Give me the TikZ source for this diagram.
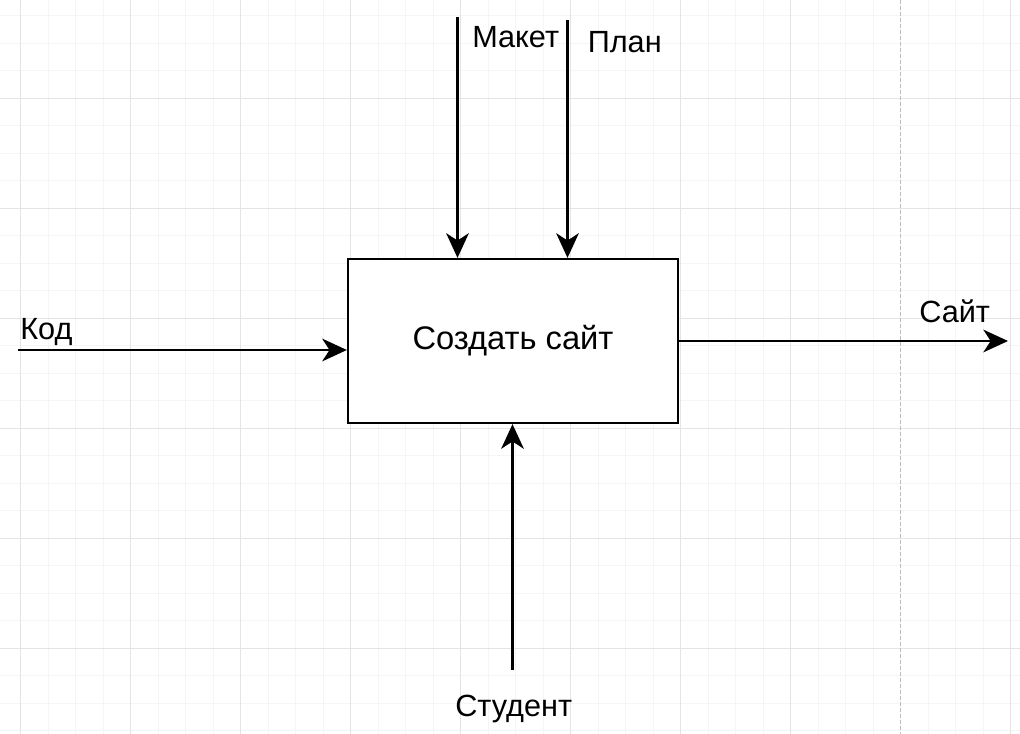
\documentclass[tikz,border=0pt]{standalone}
\usepackage{fontspec}
\setmainfont{Liberation Sans}
\usetikzlibrary{arrows.meta}
\begin{document}
\begin{tikzpicture}[x=0.75pt,y=-0.75pt,
  minorgrid/.style={draw={rgb,255:red,245;green,245;blue,245},line width=0.75pt},
  majorgrid/.style={draw={rgb,255:red,228;green,228;blue,228},line width=0.75pt},
  pagebreak/.style={draw={rgb,255:red,190;green,190;blue,190},line width=0.75pt,dash pattern=on 3pt off 1.5pt},
  flow/.style={line width=1.7pt,-{Stealth[length=18.5pt,width=17pt,inset=5.5pt]}},
  lbl/.style={anchor=base west,inner sep=0pt,font=\fontsize{23}{27}\selectfont},
  funcbox/.style={draw,line width=1.7pt,fill=white,minimum width=330*0.75pt,minimum height=164*0.75pt,inner sep=0pt,font=\fontsize{24.5}{29}\selectfont}]
\useasboundingbox[fill=white] (0,0) rectangle (1020,734);
% grid
\foreach \x in {20.5,48,...,1020} \draw[minorgrid] (\x,0) -- (\x,734);
\foreach \y in {15.8,43.3,...,734} \draw[minorgrid] (0,\y) -- (1020,\y);
\foreach \x in {20.5,130.5,240.5,350.5,460.5,570.5,680.5,790.5,1010.5} \draw[majorgrid] (\x,0) -- (\x,734);
\foreach \y in {98.3,208.3,318.3,428.3,538.3,648.3} \draw[majorgrid] (0,\y) -- (1020,\y);
\draw[pagebreak] (900.8,0) -- (900.8,734);
% main box
\node[funcbox] (box) at (513,341) {Создать сайт};
% free ends
\coordinate (mk) at (457.5,17);
\coordinate (pl) at (567.5,20);
\coordinate (kd) at (18,350);
\coordinate (st) at (512.5,670);
\coordinate (sa) at (1008,341);
% connectors
\draw[flow] (mk) -- (mk |- box.north);
\draw[flow] (pl) -- (pl |- box.north);
\draw[flow] (kd) -- (kd -| box.west);
\draw[flow] (st) -- (st |- box.south);
\draw[flow] (box.east) -- (sa);
% labels
\node[lbl] (lmk) at (472,47.5) {Макет};
\node[lbl] (lpl) at (587.5,53) {План};
\node[lbl] (lkd) at (20,339) {Код};
\node[lbl] (lsa) at (919,322.5) {Сайт};
\node[lbl] (lst) at (455,716.5) {Студент};
\end{tikzpicture}
\end{document}
